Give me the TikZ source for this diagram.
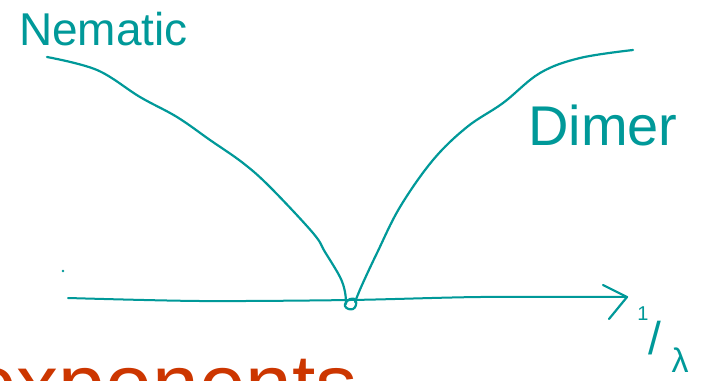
\documentclass[tikz,border=0pt]{standalone}
\usepackage{fontspec}
\setmainfont{Liberation Sans}
\definecolor{teal1}{RGB}{0,153,153}
\definecolor{rust}{RGB}{204,54,0}
\begin{document}
\begin{tikzpicture}[x=1pt,y=-1pt,
  ink/.style={draw=teal1,line width=2.2pt,line cap=round,line join=round},
  hand/.style={text=teal1,inner sep=0pt,anchor=base west}]
\clip (0,0) rectangle (706,380);
\fill[white] (0,0) rectangle (706,380);
% labels
\node[hand,font=\fontsize{46}{50}\selectfont] (nem) at (19,45) {Nematic};
\node[hand,font=\fontsize{56}{60}\selectfont] (dim) at (528,145) {Dimer};
% curves
\draw[ink] plot[smooth,tension=0.6] coordinates {(47,57) (97,70) (140,97) (177,117) (210,140) (243,163) (270,187) (313,233) (325,252) (340,277) (345,292) (346,304)};
\draw[ink] plot[smooth cycle,tension=0.9] coordinates {(345,306) (350,299) (356,301) (353,309)};
\draw[ink] plot[smooth,tension=0.6] coordinates {(355,302) (362,285) (377,253) (400,207) (433,160) (467,127) (503,103) (540,73) (580,58) (633,50)};
% axis
\coordinate (a0) at (68,298);
\coordinate (a1) at (627,297);
\draw[ink,line width=2pt] plot[smooth,tension=0.5] coordinates {(a0) (200,301) (350,300) (480,297) (a1)};
\draw[ink] (603,285) -- (a1) -- (609,319);
\fill[teal1] (63,271) circle (1.4);
% 1/lambda
\node[hand,anchor=center,font=\fontsize{20}{22}\selectfont] (one) at (643,314) {1};
\node[hand,anchor=center,font=\fontsize{46}{48}\selectfont] (sl) at (655,338) {/};
\node[hand,anchor=center,font=\fontsize{34}{36}\selectfont] (lam) at (680,360) {λ};
% bottom text (cut off)
\node[text=rust,inner sep=0pt,anchor=base west,font=\fontsize{84}{86}\selectfont] (exp) at (-30,413) {exponents};
\end{tikzpicture}
\end{document}
